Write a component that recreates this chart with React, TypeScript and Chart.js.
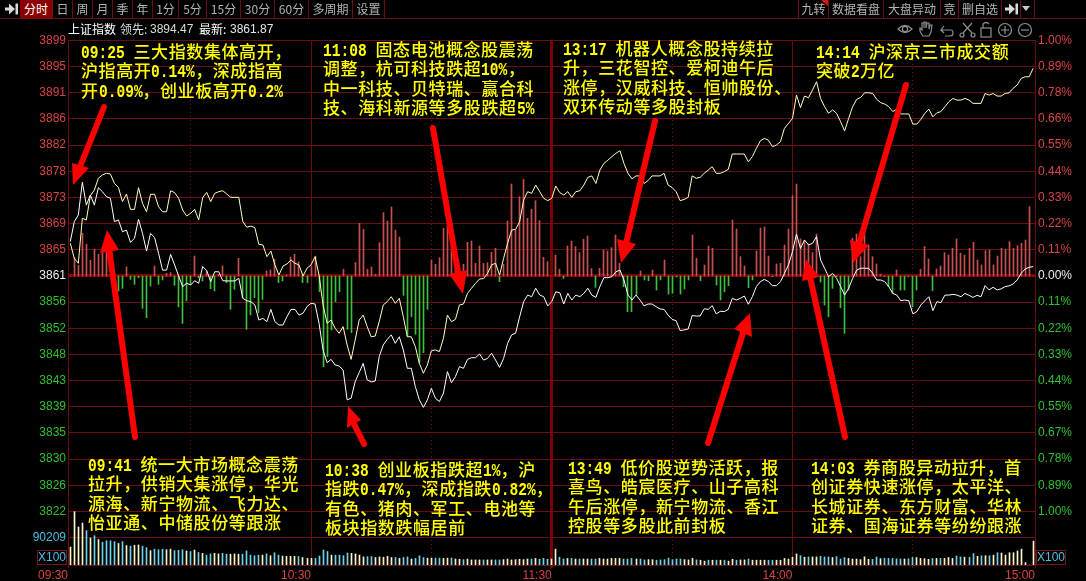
import React, { useEffect, useRef } from "react";
import { Chart, registerables } from "chart.js";

Chart.register(...registerables);

const priceLabels = ["3899","3895","3891","3886","3882","3878","3873","3869","3865","3861","3856","3852","3848","3843","3839","3835","3830","3826","3822","90209",""];
const pctLabels = ["1.00%","0.89%","0.78%","0.66%","0.55%","0.44%","0.33%","0.22%","0.11%","0.00%","0.11%","0.22%","0.33%","0.44%","0.55%","0.67%","0.78%","0.89%","1.00%","",""];
const timeTicks = [-0.573, 30, 60, 90, 120, 150, 180, 210, 240.45];
const timeLabels = ["09:30", "", "10:30", "", "11:30", "", "14:00", "", "15:00"];

// Intraday change of the index, % against previous close, one value per minute
const indexLine = [
0.146,0.231,0.259,0.398,0.301,0.344,0.301,0.375,0.358,0.337,
0.330,0.231,0.238,0.188,0.195,0.143,0.160,0.241,0.181,0.106,
0.181,0.164,0.096,0.025,0.025,0.092,0.047,0,-0.045,-0.031,
-0.038,-0.020,-0.031,0.040,0.023,-0.024,0.018,0.018,-0.020,-0.021,
-0.021,-0.021,-0.010,-0.095,-0.105,-0.109,-0.123,-0.187,-0.180,-0.194,
-0.142,-0.194,-0.208,-0.208,-0.173,-0.142,-0.142,-0.166,-0.158,-0.130,
-0.116,-0.119,-0.201,-0.314,-0.368,-0.354,-0.378,-0.382,-0.399,-0.526,
-0.519,-0.449,-0.410,-0.371,-0.441,-0.450,-0.446,-0.342,-0.293,-0.269,
-0.250,-0.286,-0.258,-0.314,-0.392,-0.392,-0.470,-0.526,-0.558,-0.526,
-0.477,-0.519,-0.533,-0.498,-0.406,-0.453,-0.427,-0.385,-0.392,-0.354,
-0.347,-0.347,-0.331,-0.357,-0.350,-0.328,-0.357,-0.388,-0.350,-0.286,
-0.250,-0.243,-0.173,-0.109,-0.081,-0.088,-0.052,-0.081,-0.088,-0.127,
-0.109,-0.067,-0.071,-0.119,-0.074,-0.102,-0.081,-0.088,-0.074,-0.052,
-0.081,-0.091,-0.045,-0.007,-0.007,-0.003,0.018,0.025,-0.017,-0.081,
-0.102,-0.081,-0.102,-0.127,-0.119,-0.119,-0.130,-0.140,-0.142,-0.166,
-0.184,-0.190,-0.232,-0.229,-0.225,-0.168,-0.170,-0.170,-0.139,-0.142,
-0.126,-0.161,-0.150,-0.151,-0.142,-0.095,-0.102,-0.095,-0.085,-0.120,
-0.088,-0.045,-0.024,-0.014,-0.024,-0.041,-0.041,-0.024,0.011,0.047,
0.103,0.178,0.117,0.153,0.132,0.139,0.167,0.068,0.033,-0.003,
0.011,-0.010,-0.045,-0.081,-0.052,-0.010,0.025,0.033,0.033,0.033,
0.011,-0.017,-0.017,-0.024,-0.045,-0.074,-0.081,-0.105,-0.102,-0.105,
-0.161,-0.151,-0.123,-0.105,-0.088,-0.147,-0.109,-0.113,-0.081,-0.081,
-0.078,-0.081,-0.088,-0.074,-0.082,-0.091,-0.082,-0.088,-0.041,-0.059,
-0.048,-0.059,-0.055,-0.045,-0.042,-0.034,-0.017,0.011,0.030,0.037,
0.040];

// Change of the unweighted companion line, same unit
const leaderLine = [
0.139,0.075,0.054,0.245,0.238,0.341,0.365,0.415,0.429,0.436,
0.433,0.393,0.376,0.316,0.348,0.283,0.283,0.375,0.308,0.273,
0.347,0.347,0.294,0.273,0.273,0.362,0.354,0.330,0.280,0.255,
0.266,0.283,0.238,0.333,0.355,0.316,0.351,0.358,0.362,0.348,
0.334,0.334,0.334,0.231,0.207,0.212,0.205,0.134,0.132,0.082,
0.106,0.047,0.004,0.042,0.051,0.068,0.054,0.047,0,0.033,
0.047,0.082,0.004,-0.123,-0.201,-0.187,-0.222,-0.243,-0.215,-0.293,
-0.354,-0.272,-0.187,-0.166,-0.215,-0.258,-0.255,-0.194,-0.123,-0.109,
-0.088,-0.116,-0.095,-0.173,-0.258,-0.258,-0.300,-0.371,-0.413,-0.378,
-0.317,-0.314,-0.321,-0.265,-0.166,-0.194,-0.184,-0.123,-0.119,-0.074,
-0.052,-0.031,-0.013,-0.011,0.011,0.047,0.054,0.004,0.075,0.139,
0.195,0.198,0.231,0.323,0.358,0.351,0.386,0.358,0.330,0.320,
0.330,0.382,0.354,0.344,0.358,0.334,0.358,0.362,0.386,0.419,
0.425,0.393,0.450,0.478,0.492,0.507,0.521,0.532,0.478,0.436,
0.412,0.425,0.425,0.393,0.405,0.425,0.425,0.425,0.436,0.386,
0.376,0.358,0.320,0.325,0.334,0.425,0.415,0.419,0.436,0.450,
0.464,0.436,0.436,0.443,0.453,0.518,0.518,0.518,0.518,0.485,
0.507,0.542,0.574,0.584,0.577,0.549,0.556,0.570,0.627,0.648,
0.669,0.768,0.715,0.764,0.757,0.790,0.825,0.754,0.719,0.691,
0.705,0.691,0.655,0.616,0.669,0.719,0.750,0.758,0.778,0.778,
0.775,0.750,0.736,0.730,0.719,0.698,0.708,0.688,0.688,0.688,
0.645,0.645,0.665,0.691,0.708,0.676,0.693,0.698,0.719,0.740,
0.754,0.747,0.747,0.754,0.747,0.733,0.733,0.733,0.775,0.768,
0.775,0.764,0.764,0.775,0.778,0.797,0.811,0.839,0.846,0.846,
0.882];

// Net buying strength per minute, in the chart's own relative units
const netStrength = [
0,55,32,128,95,47,80,65,70,75,
0,0,-45,-37,27,-10,-25,-5,-97,-125,
-30,30,-25,-12,8,10,-28,-93,-142,-75,
-25,60,-5,-15,15,-38,-45,5,30,-20,
-100,-40,53,-65,-160,-117,-65,-110,-70,15,
18,50,-20,-15,3,57,65,42,-20,-20,
30,60,-47,-272,-242,-162,-77,-47,20,-160,
-170,40,158,140,20,27,5,100,190,165,
207,138,117,-58,-180,-122,-175,-260,-230,-100,
48,35,55,143,155,90,60,0,35,101,
105,38,90,38,40,71,83,-17,35,165,
276,138,238,290,173,200,226,166,56,43,
0,63,20,-7,90,105,88,70,110,120,
22,-34,23,78,75,85,123,38,-32,-107,
-107,-57,15,-12,-14,18,-42,-12,48,-54,
-52,-3,-54,-39,-12,123,53,-14,33,90,
83,-27,-72,-47,-29,168,141,58,30,-35,
-12,75,144,147,60,-2,36,38,93,141,
241,276,111,106,96,70,126,-18,-87,-122,
-37,-2,-95,-172,-42,113,126,58,133,93,
58,36,6,-2,-32,-52,18,-42,-42,-2,
-92,-42,20,88,51,-44,21,30,70,63,
83,111,68,63,83,101,48,33,76,78,
33,60,83,80,103,83,91,98,108,208,
0];

// Volume per minute, thousands of lots
const volumeK = [
60,178,127,140,115,90,98,85,76,81,
81,78,72,78,65,63,66,67,63,58,
48,53,51,53,51,53,48,49,51,47,
45,50,42,39,33,37,39,37,39,36,
36,37,36,36,47,33,31,33,33,37,
31,41,33,30,29,29,29,28,25,22,
22,22,30,50,45,33,33,33,31,40,
39,37,33,27,28,28,25,27,26,29,
25,25,22,25,27,20,22,31,25,23,
23,23,23,22,23,23,20,19,18,20,
17,17,17,17,17,17,17,17,18,20,
17,18,19,18,20,20,22,19,22,19,
20,53,26,20,22,22,20,20,20,20,
20,20,22,20,20,22,22,22,20,20,
22,20,20,17,18,18,16,17,18,23,
18,20,20,18,17,22,17,16,13,16,
16,16,16,16,13,19,16,17,17,20,
16,16,16,16,16,16,16,16,22,20,
26,37,31,26,27,27,27,29,27,27,
25,28,20,25,22,20,20,18,27,19,
19,27,21,22,22,22,21,20,20,21,
25,25,22,21,19,22,22,22,22,25,
22,30,27,26,26,38,29,31,31,31,
33,41,40,33,41,41,47,53,8,0,
80];

const notes = [
  { left: 81, top: 41, lines: ["09:25 三大指数集体高开，", "沪指高开0.14%，深成指高", "开0.09%，创业板高开0.2%"] },
  { left: 323, top: 39, lines: ["11:08 固态电池概念股震荡", "调整，杭可科技跌超10%，", "中一科技、贝特瑞、赢合科", "技、海科新源等多股跌超5%"] },
  { left: 563, top: 38, lines: ["13:17 机器人概念股持续拉", "升，三花智控、爱柯迪午后", "涨停，汉威科技、恒帅股份、", "双环传动等多股封板"] },
  { left: 816, top: 41, lines: ["14:14 沪深京三市成交额", "突破2万亿"] },
  { left: 88, top: 454, lines: ["09:41 统一大市场概念震荡", "拉升，供销大集涨停，华光", "源海、新宁物流、飞力达、", "怡亚通、中储股份等跟涨"] },
  { left: 325, top: 459, lines: ["10:38 创业板指跌超1%，沪", "指跌0.47%，深成指跌0.82%，", "有色、猪肉、军工、电池等", "板块指数跌幅居前"] },
  { left: 568, top: 457, lines: ["13:49 低价股逆势活跃，报", "喜鸟、皓宸医疗、山子高科", "午后涨停，新宁物流、香江", "控股等多股此前封板"] },
  { left: 811, top: 457, lines: ["14:03 券商股异动拉升，首", "创证券快速涨停，太平洋、", "长城证券、东方财富、华林", "证券、国海证券等纷纷跟涨"] },
];

// Hand-drawn callout arrows: tail, tip, the two corners of the head
const calloutArrows = [
  [[104, 107], [73, 185], [72, 163], [89, 168]],
  [[135, 437], [107, 230], [100, 253], [119, 250]],
  [[364, 444], [348, 406], [347, 428], [361, 420]],
  [[433, 128], [463, 294], [449, 274], [467, 270]],
  [[655, 121], [621, 263], [617, 239], [636, 244]],
  [[708, 443], [750, 313], [734, 329], [752, 337]],
  [[845, 437], [806, 259], [802, 281], [819, 277]],
  [[906, 85], [853, 263], [850, 240], [869, 245]],
];

const leftMenu = [
  { t: "分时", l: 20, r: 53, active: true },
  { t: "日", l: 53, r: 73 }, { t: "周", l: 73, r: 93 }, { t: "月", l: 93, r: 113 },
  { t: "季", l: 113, r: 133 }, { t: "年", l: 133, r: 153 }, { t: "1分", l: 153, r: 179 },
  { t: "5分", l: 179, r: 207 }, { t: "15分", l: 207, r: 241 }, { t: "30分", l: 241, r: 275 },
  { t: "60分", l: 275, r: 309 }, { t: "多周期", l: 309, r: 353 }, { t: "设置", l: 353, r: 385 },
];
const rightMenu = [
  { t: "九转", l: 799, r: 829 }, { t: "数据看盘", l: 829, r: 884 }, { t: "大盘异动", l: 884, r: 941 },
  { t: "竞", l: 941, r: 959 }, { t: "删自选", l: 959, r: 1002 },
];

const RED_LINE = "#6a0f0f";
const ZERO_LINE = "#7c0000";
const CJK = '"Noto Sans CJK SC", "Noto Sans", sans-serif';
const LATIN = '"Liberation Sans", sans-serif';
const HALF_WIDTH = 8.75;

const snapBars = {
  id: "snapBars",
  beforeDatasetsDraw(chart: any) {
    chart.getSortedVisibleDatasetMetas().forEach((meta: any) => {
      if (meta.type !== "bar") return;
      meta.data.forEach((el: any) => { el.x = Math.round(el.x - 0.5) + 0.5; });
    });
  },
};

const drawArrows = {
  id: "drawArrows",
  afterDraw(chart: any) {
    const c = chart.ctx;
    c.save();
    c.strokeStyle = "#ff0000";
    c.fillStyle = "#ff0000";
    c.lineWidth = 6;
    c.lineCap = "round";
    calloutArrows.forEach(([tail, tip, a, b]) => {
      c.beginPath();
      c.moveTo(tail[0], tail[1]);
      c.lineTo((a[0] + b[0]) / 2, (a[1] + b[1]) / 2);
      c.stroke();
      c.beginPath();
      c.moveTo(tip[0], tip[1]);
      c.lineTo(a[0], a[1]);
      c.lineTo(b[0], b[1]);
      c.closePath();
      c.fill();
    });
    c.restore();
  },
};

function MenuItem({ item }: any) {
  return (
    <div style={{
      position: "absolute", left: item.l, width: item.r - item.l - 1, top: 0, height: 18,
      lineHeight: "18px", textAlign: "center", fontSize: 12, fontFamily: CJK,
      color: item.active ? "#ffffff" : "#b4b4b4",
      background: item.active ? "#8b0000" : "transparent",
      borderRight: "1px solid #6a0f0f", whiteSpace: "nowrap",
    }}>{item.t}</div>
  );
}

function PlayEnd({ x }: any) {
  return (
    <svg style={{ position: "absolute", left: x, top: 3 }} width="14" height="12">
      <rect x="0" y="4.5" width="5" height="3" fill="#d8d8d8" />
      <path d="M4 0.5 L10 6 L4 11.5 Z" fill="#d8d8d8" />
      <rect x="10.5" y="0.5" width="2.5" height="11" fill="#d8d8d8" />
    </svg>
  );
}

function ToolIcons() {
  const stroke = "#8e8e8e";
  return (
    <svg style={{ position: "absolute", left: 895, top: 21 }} width="135" height="17" fill="none" stroke={stroke} strokeWidth="1.2">
      <path d="M3 8 Q10 1 17 8 Q10 15 3 8 Z" /><circle cx="10" cy="8" r="2.6" />
      <path d="M28 15 Q24 10 25 7 L27 9 L27 2 L29 2 L29 7 L29 1 L31 1 L31 7 L32 2 L34 2 L34 8 L35 4 L37 4 L36 11 L34 15 Z" />
      <path d="M52 9 L46 9 L49 5 M46 9 L49 12 M46 9 L56 9 Q58 9 58 12 Q58 15 55 15 L50 15" />
      <path d="M68 2 L77 12 M77 2 L68 12" /><circle cx="67" cy="14" r="2" /><circle cx="78" cy="14" r="2" />
      <rect x="86" y="7" width="10" height="9" /><path d="M88 7 L88 3 Q91 0 94 3" />
      <circle cx="110" cy="9" r="6.5" /><path d="M106 9 L114 9 M110 5 L110 13" />
    </svg>
  );
}

function NoteLine({ text }: any) {
  const parts: string[] = text.split(/([\x20-\x7e]+)/);
  return (
    <div style={{ height: 19.3, lineHeight: "19.3px" }}>
      {parts.map((p, i) =>
        /^[\x20-\x7e]+$/.test(p) ? (
          <span key={i} style={{ display: "inline-block", width: p.length * HALF_WIDTH, letterSpacing: 0, lineHeight: "14px" }}>
            <span style={{
              display: "inline-block", fontFamily: '"Liberation Mono", monospace', fontSize: 18, fontWeight: 700,
              lineHeight: "14px", transform: "scaleX(0.81)", transformOrigin: "left center", whiteSpace: "pre",
            }}>{p}</span>
          </span>
        ) : (
          <span key={i}>{p}</span>
        )
      )}
    </div>
  );
}

export default function App() {
  const ref = useRef<HTMLCanvasElement | null>(null);

  useEffect(() => {
    document.body.style.margin = "0";
    document.body.style.background = "#000";
    const minutes = indexLine.map((_, i) => i);
    const pts = (arr: number[]) => arr.map((y, i) => ({ x: minutes[i], y }));
    const leftTicks = priceLabels.map((_, i) => (i < 20 ? (9 - i) / 9 : -1.2272));
    const side = (label: string, i: number) => {
      if (i === 19) return "#48bfe6";
      if (i < 9) return "#d84444";
      if (i === 9) return "#e8eef4";
      return "#30c030";
    };
    const chart = new Chart(ref.current as HTMLCanvasElement, {
      type: "bar",
      data: {
        datasets: [
          {
            type: "line", label: "指数", yAxisID: "y", data: pts(indexLine), order: 1,
            borderColor: "#ffffff", borderWidth: 1, pointRadius: 0, tension: 0,
          },
          {
            type: "line", label: "领先", yAxisID: "y", data: pts(leaderLine), order: 2,
            borderColor: "#ffffbe", borderWidth: 1, pointRadius: 0, tension: 0,
          },
          {
            type: "bar", label: "强弱", yAxisID: "yNet", data: pts(netStrength), order: 3,
            barThickness: 1, grouped: false,
            backgroundColor: (ctx: any) => (ctx.raw && ctx.raw.y >= 0 ? "#c85050" : "#3fbf3f"),
          },
          {
            type: "bar", label: "成交量", yAxisID: "yVol", data: pts(volumeK), order: 4,
            barThickness: 1, grouped: false,
            backgroundColor: (ctx: any) => {
              const i = ctx.dataIndex;
              return i > 0 && indexLine[i] < indexLine[i - 1] ? "#6fd3ec" : "#fff6c8";
            },
          },
        ] as any,
      },
      options: {
        animation: false,
        responsive: false,
        events: [],
        layout: { padding: { top: 40, left: 0, right: 0, bottom: 0 } },
        plugins: { legend: { display: false }, tooltip: { enabled: false } },
        scales: {
          x: {
            type: "linear", offset: false, min: timeTicks[0], max: timeTicks[timeTicks.length - 1],
            afterBuildTicks: (s: any) => { s.ticks = timeTicks.map((value) => ({ value })); },
            afterFit: (s: any) => { s.height = 16; },
            border: {
              display: false,
              dash: (ctx: any) => (timeLabels[ctx.index] === "" ? [1, 3] : []),
            } as any,
            grid: {
              offset: false, tickLength: 3,
              color: (ctx: any) => (ctx.tick && ctx.tick.value === 120 ? ZERO_LINE : timeLabels[ctx.index] === "" ? "#7a1414" : RED_LINE),
              tickColor: (ctx: any) => (ctx.tick && ctx.tick.value === 120 ? ZERO_LINE : RED_LINE),
              lineWidth: (ctx: any) => (ctx.tick && ctx.tick.value === 120 ? 3 : 1),
            },
            ticks: {
              autoSkip: false, maxRotation: 0, minRotation: 0, align: "end", padding: 0,
              color: "#d84444", font: { family: "Liberation Sans", size: 12 },
              callback: (_: any, i: number) => timeLabels[i],
            },
          },
          y: {
            type: "linear", position: "left", min: -1.2272, max: 1.0021,
            afterBuildTicks: (s: any) => { s.ticks = leftTicks.map((value) => ({ value })); },
            afterFit: (s: any) => { s.width = 68; },
            border: { display: false },
            grid: {
              drawTicks: false,
              color: (ctx: any) => (ctx.index === 9 ? ZERO_LINE : RED_LINE),
              lineWidth: (ctx: any) => (ctx.index === 9 ? 3 : 1),
            },
            ticks: {
              autoSkip: false, padding: 2, font: { family: "Liberation Sans", size: 12 },
              color: (ctx: any) => side(priceLabels[ctx.index] || "", ctx.index),
              callback: (_: any, i: number) => priceLabels[i],
            },
          },
          yRight: {
            type: "linear", position: "right", min: -1.2272, max: 1.0021,
            afterBuildTicks: (s: any) => { s.ticks = leftTicks.map((value) => ({ value })); },
            afterFit: (s: any) => { s.width = 51; },
            border: { display: false },
            grid: { display: false, drawTicks: false },
            ticks: {
              autoSkip: false, padding: 3, font: { family: "Liberation Sans", size: 12 },
              color: (ctx: any) => side(pctLabels[ctx.index] || "", ctx.index),
              callback: (_: any, i: number) => pctLabels[i],
            },
          },
          yNet: { type: "linear", display: false, min: -867, max: 708 },
          yVol: { type: "linear", display: false, min: 0, max: 1754 },
        },
      } as any,
      plugins: [snapBars, drawArrows],
    });
    return () => chart.destroy();
  }, []);

  const smallText = (left: number, text: string, family: string, color: string) => (
    <div style={{ position: "absolute", left, top: 20, height: 18, lineHeight: "18px", fontSize: 12, fontFamily: family, color, whiteSpace: "nowrap" }}>{text}</div>
  );

  return (
    <div style={{ position: "fixed", left: 0, top: 0, width: 1086, height: 581, background: "#000", overflow: "hidden" }}>
      <canvas ref={ref} width={1086} height={581} style={{ position: "absolute", left: 0, top: 0, display: "block" }} />

      <div style={{ position: "absolute", left: 0, right: 0, top: 18, height: 1, background: "#6a0f0f" }} />
      <PlayEnd x={5} />
      {leftMenu.map((m) => <MenuItem key={m.t} item={m} />)}
      {rightMenu.map((m) => <MenuItem key={m.t} item={m} />)}
      <div style={{ position: "absolute", left: 798, top: 0, width: 1, height: 18, background: "#6a0f0f" }} />
      <svg style={{ position: "absolute", left: 821, top: 0 }} width="8" height="6"><path d="M0 0 L7 0 L7 6 Z" fill="#e01010" /></svg>
      <PlayEnd x={1005} />
      <svg style={{ position: "absolute", left: 1022, top: 6 }} width="10" height="7"><path d="M0 0 L8 0 L4 5 Z" fill="#c8c8c8" /></svg>
      <div style={{ position: "absolute", left: 1020, top: 0, width: 1, height: 18, background: "#6a0f0f" }} />
      <div style={{ position: "absolute", left: 1034, top: 0, width: 1, height: 18, background: "#6a0f0f" }} />

      {smallText(68, "上证指数", CJK, "#ffffff")}
      {smallText(120, "领先:", CJK, "#dcdcdc")}
      {smallText(150, "3894.47", LATIN, "#dcdcd4")}
      {smallText(199, "最新:", CJK, "#ffffff")}
      {smallText(230, "3861.87", LATIN, "#e4e4e4")}
      <ToolIcons />
      <svg style={{ position: "absolute", left: 1017, top: 21 }} width="16" height="17" fill="none" stroke="#8e8e8e" strokeWidth="1.2">
        <circle cx="8" cy="9" r="6.5" /><path d="M4 9 L12 9" />
      </svg>

      {notes.map((n) => (
        <div key={n.lines[0]} style={{
          position: "absolute", left: n.left, top: n.top, color: "#ffff00",
          fontFamily: CJK, fontSize: 17, letterSpacing: 0.6,
          fontWeight: 500, whiteSpace: "pre",
        }}>
          {n.lines.map((l) => <NoteLine key={l} text={l} />)}
        </div>
      ))}

      <div style={{ position: "absolute", left: 37, top: 550, width: 28, height: 13, border: "1px solid #7a1414", color: "#48bfe6", fontFamily: LATIN, fontSize: 12, lineHeight: "13px", textAlign: "center" }}>X100</div>
      <div style={{ position: "absolute", left: 1036, top: 550, width: 28, height: 13, border: "1px solid #7a1414", color: "#48bfe6", fontFamily: LATIN, fontSize: 12, lineHeight: "13px", textAlign: "center" }}>X100</div>
    </div>
  );
}
